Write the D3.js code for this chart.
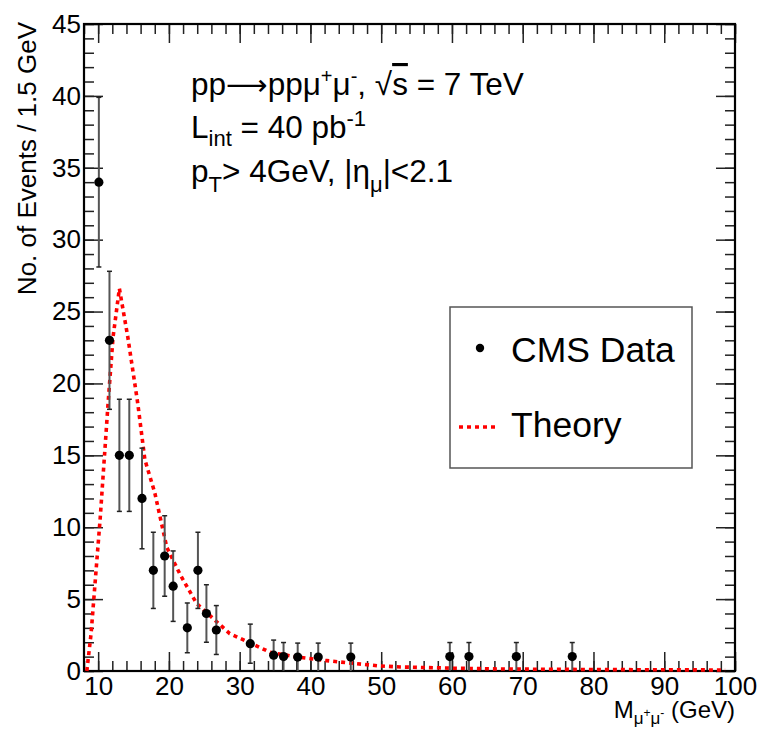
<!DOCTYPE html>
<html>
<head>
<meta charset="utf-8">
<script src="https://cdn.jsdelivr.net/npm/d3@7"></script>
<style>
  body { margin: 0; background: #fff; }
  text { font-family: "Liberation Sans", Arial, Helvetica, sans-serif; fill: #000; }
</style>
</head>
<body>
<div id="chart"></div>
<script>
// CMS data points (dimuon mass in GeV, events per 1.5 GeV, error)
const massData = [10.1, 11.6, 13.0, 14.4, 16.2, 17.8, 19.4, 20.6, 22.6, 24.1, 25.3, 26.7,
                  31.5, 34.8, 36.2, 38.2, 41.1, 45.7, 59.7, 62.4, 69.1, 77.0];
const eventsData = [34, 23, 15, 15, 12, 7, 8, 5.9, 3, 7, 4, 2.85,
                    1.9, 1.1, 1.0, 0.97, 0.97, 0.97, 1.0, 1.0, 1.0, 1.0];
const eventsErr = [5.9, 4.8, 3.9, 3.9, 3.5, 2.65, 2.8, 2.45, 1.73, 2.65, 2.0, 1.7,
                   1.36, 1.05, 0.98, 0.97, 0.97, 0.97, 0.98, 0.98, 0.98, 0.98];

// theory curve
const theoryMass = [8.4, 9.0, 10.3, 11.4, 12.1, 13.0, 14.2, 15.6, 16.6, 18.0, 19.7, 21.6,
                    23.9, 28.6, 31.5, 34.3, 38.1, 42.3, 45.7, 49.8, 52.7, 59.7, 66.8, 80.9, 98.6];
const theoryEvents = [0, 2.6, 10.7, 18.6, 23.2, 26.6, 23.2, 18.6, 14.7, 12.4, 8.6, 6.7,
                      4.7, 2.6, 1.95, 1.3, 0.97, 0.72, 0.55, 0.35, 0.28, 0.2, 0.14, 0.1, 0.07];

const xMajor = [10, 20, 30, 40, 50, 60, 70, 80, 90, 100];
const xMinor = d3.range(8, 101, 2);
const yMajor = [0, 5, 10, 15, 20, 25, 30, 35, 40, 45];
const yMinor = d3.range(0, 46, 1);

function drawChart() {
    const width = 758;
    const height = 730;
    const frame = { left: 84, right: 735, top: 24, bottom: 671 };

    const svg = d3.select("#chart")
        .append("svg")
        .attr("width", width)
        .attr("height", height);

    const x = d3.scaleLinear().domain([8, 100]).range([frame.left, frame.right]);
    const y = d3.scaleLinear().domain([0, 45]).range([frame.bottom, frame.top]);

    const majorLen = 19, minorLen = 10;

    // bottom axis (labels + ticks pointing inside)
    const gx = svg.append("g")
        .attr("transform", `translate(0, ${frame.bottom})`)
        .call(d3.axisBottom(x).tickValues(xMajor).tickSizeInner(-majorLen).tickSizeOuter(0).tickPadding(6));
    gx.selectAll("text").style("font-size", "26px");
    svg.append("g")
        .attr("transform", `translate(0, ${frame.bottom})`)
        .call(d3.axisBottom(x).tickValues(xMinor).tickSizeInner(-minorLen).tickSizeOuter(0).tickFormat(""));

    // top axis, ticks only
    svg.append("g")
        .attr("transform", `translate(0, ${frame.top})`)
        .call(d3.axisTop(x).tickValues(xMajor).tickSizeInner(-majorLen).tickSizeOuter(0).tickFormat(""));
    svg.append("g")
        .attr("transform", `translate(0, ${frame.top})`)
        .call(d3.axisTop(x).tickValues(xMinor).tickSizeInner(-minorLen).tickSizeOuter(0).tickFormat(""));

    // left axis
    const gy = svg.append("g")
        .attr("transform", `translate(${frame.left}, 0)`)
        .call(d3.axisLeft(y).tickValues(yMajor).tickSizeInner(-majorLen).tickSizeOuter(0).tickPadding(3));
    gy.selectAll("text").style("font-size", "26px");
    svg.append("g")
        .attr("transform", `translate(${frame.left}, 0)`)
        .call(d3.axisLeft(y).tickValues(yMinor).tickSizeInner(-minorLen).tickSizeOuter(0).tickFormat(""));

    // right axis, ticks only
    svg.append("g")
        .attr("transform", `translate(${frame.right}, 0)`)
        .call(d3.axisRight(y).tickValues(yMajor).tickSizeInner(-majorLen).tickSizeOuter(0).tickFormat(""));
    svg.append("g")
        .attr("transform", `translate(${frame.right}, 0)`)
        .call(d3.axisRight(y).tickValues(yMinor).tickSizeInner(-minorLen).tickSizeOuter(0).tickFormat(""));

    svg.selectAll(".domain").remove();
    svg.selectAll(".tick line").attr("stroke", "#222").attr("stroke-width", 1.5);

    // frame
    svg.append("rect")
        .attr("x", frame.left)
        .attr("y", frame.top)
        .attr("width", frame.right - frame.left)
        .attr("height", frame.bottom - frame.top)
        .attr("fill", "none")
        .attr("stroke", "#000")
        .attr("stroke-width", 2.2);

    // theory curve
    const line = d3.line()
        .x((d, i) => x(theoryMass[i]))
        .y(d => y(d));
    svg.append("path")
        .datum(theoryEvents)
        .attr("d", line)
        .attr("fill", "none")
        .attr("stroke", "#ff0000")
        .attr("stroke-width", 3.6)
        .attr("stroke-dasharray", "4,4");

    // error bars + caps
    const pts = massData.map((m, i) => ({ m: m, v: eventsData[i], e: eventsErr[i] }));
    const bars = svg.append("g");
    bars.selectAll("line.err")
        .data(pts)
        .join("line")
        .attr("class", "err")
        .attr("x1", d => x(d.m)).attr("x2", d => x(d.m))
        .attr("y1", d => y(Math.max(0, d.v - d.e)))
        .attr("y2", d => y(d.v + d.e))
        .attr("stroke", "#555")
        .attr("stroke-width", 2);
    bars.selectAll("line.capTop")
        .data(pts)
        .join("line")
        .attr("class", "capTop")
        .attr("x1", d => x(d.m) - 2.5).attr("x2", d => x(d.m) + 2.5)
        .attr("y1", d => y(d.v + d.e)).attr("y2", d => y(d.v + d.e))
        .attr("stroke", "#222")
        .attr("stroke-width", 1.5);
    bars.selectAll("line.capBot")
        .data(pts.filter(d => d.v - d.e > 0.1))
        .join("line")
        .attr("class", "capBot")
        .attr("x1", d => x(d.m) - 2.5).attr("x2", d => x(d.m) + 2.5)
        .attr("y1", d => y(d.v - d.e)).attr("y2", d => y(d.v - d.e))
        .attr("stroke", "#222")
        .attr("stroke-width", 1.5);

    svg.append("g")
        .selectAll("circle")
        .data(pts)
        .join("circle")
        .attr("cx", d => x(d.m))
        .attr("cy", d => y(d.v))
        .attr("r", 4.6)
        .attr("fill", "#000");

    // axis titles
    const xt = svg.append("text")
        .attr("x", frame.right)
        .attr("y", 718)
        .attr("text-anchor", "end")
        .style("font-size", "24px");
    xt.append("tspan").text("M");
    xt.append("tspan").attr("dy", 6).style("font-size", "17px").text("μ");
    xt.append("tspan").attr("dy", -7).style("font-size", "12px").text("+");
    xt.append("tspan").attr("dy", 7).style("font-size", "17px").text("μ");
    xt.append("tspan").attr("dy", -7).style("font-size", "12px").text("-");
    xt.append("tspan").attr("dy", 1).text(" (GeV)");

    svg.append("text")
        .attr("transform", "translate(36, 22) rotate(-90)")
        .attr("text-anchor", "end")
        .style("font-size", "26px")
        .text("No. of Events / 1.5 GeV");

    // annotation block
    const t1 = svg.append("text").attr("x", 191).attr("y", 95).style("font-size", "31.5px");
    t1.append("tspan").text("pp");
    t1.append("tspan").style("font-family", "DejaVu Sans").style("font-size", "29px").text("⟶");
    t1.append("tspan").text("ppμ");
    t1.append("tspan").attr("dy", -12).style("font-size", "20px").text("+");
    t1.append("tspan").attr("dy", 12).text("μ");
    t1.append("tspan").attr("dy", -12).style("font-size", "20px").text("-");
    t1.append("tspan").attr("dy", 12).text(",  √");
    t1.append("tspan").style("text-decoration", "overline").text("s");
    t1.append("tspan").text(" = 7 TeV");

    const t2 = svg.append("text").attr("x", 191).attr("y", 138).style("font-size", "31.5px");
    t2.append("tspan").text("L");
    t2.append("tspan").attr("dy", 8).style("font-size", "22px").text("int");
    t2.append("tspan").attr("dy", -8).text(" = 40 pb");
    t2.append("tspan").attr("dy", -12).style("font-size", "22px").text("-1");

    const t3 = svg.append("text").attr("x", 191).attr("y", 182).style("font-size", "31.5px");
    t3.append("tspan").text("p");
    t3.append("tspan").attr("dy", 10).style("font-size", "22px").text("T");
    t3.append("tspan").attr("dy", -10).text("> 4GeV, |η");
    t3.append("tspan").attr("dy", 10).style("font-size", "22px").text("μ");
    t3.append("tspan").attr("dy", -10).text("|<2.1");

    // legend
    const lg = svg.append("g");
    lg.append("rect")
        .attr("x", 450).attr("y", 307)
        .attr("width", 242).attr("height", 161)
        .attr("fill", "#fff")
        .attr("stroke", "#555")
        .attr("stroke-width", 1.5);
    lg.append("circle").attr("cx", 480).attr("cy", 348).attr("r", 4.2).attr("fill", "#000");
    lg.append("text").attr("x", 511).attr("y", 362).style("font-size", "35.5px").text("CMS Data");
    lg.append("line")
        .attr("x1", 459).attr("x2", 498)
        .attr("y1", 427).attr("y2", 427)
        .attr("stroke", "#ff0000")
        .attr("stroke-width", 3.5)
        .attr("stroke-dasharray", "4,4");
    lg.append("text").attr("x", 511).attr("y", 437).style("font-size", "35.5px").text("Theory");
}

drawChart();
</script>
</body>
</html>
